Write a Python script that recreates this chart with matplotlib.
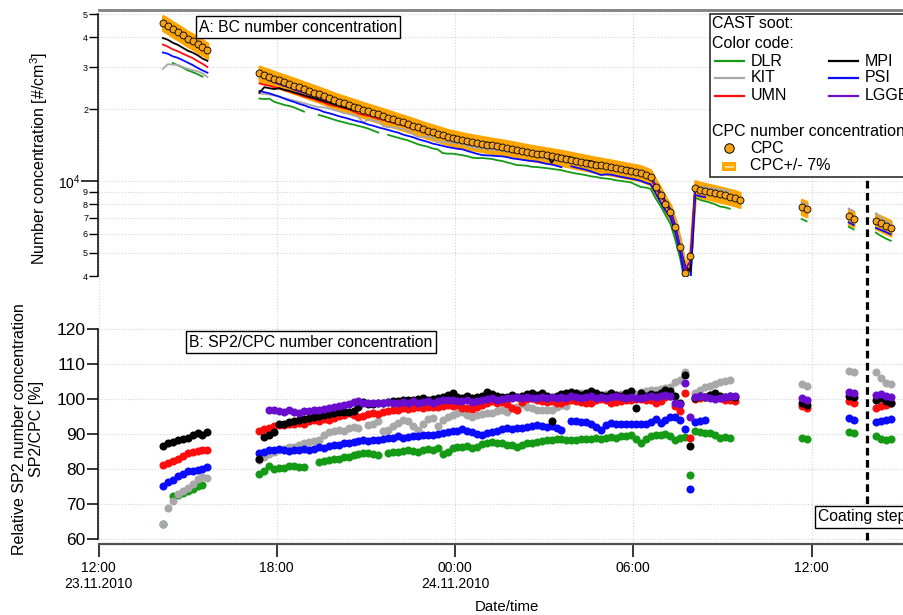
import numpy as np
import pandas as pd
import matplotlib
matplotlib.use('Agg')
from matplotlib import pyplot as plt
import matplotlib.dates as mdates
import matplotlib.ticker as mticker
import matplotlib.transforms as mtransforms
from matplotlib.lines import Line2D
from matplotlib.patches import Rectangle

plt.rcParams['font.family'] = ['Liberation Sans', 'DejaVu Sans']
plt.rcParams['mathtext.fontset'] = 'custom'
plt.rcParams['mathtext.rm'] = 'Liberation Sans'
plt.rcParams['mathtext.it'] = 'Liberation Sans:italic'

nan = np.nan

# Messabschnitte: Startzeit und Anzahl 10-min Werte
seg_start = ['2010-11-23 14:10', '2010-11-23 17:25', '2010-11-24 11:40',
             '2010-11-24 13:15', '2010-11-24 14:10']
seg_len = [10, 98, 2, 2, 4]

# CPC Anzahlkonzentration [#/cm3]
cpc = [45900, 44700, 43200, 42100, 40800, 39500, 38500, 37300, 36300, 35200,
       28200, 27700, 27300, 26800, 26360, 25930, 25520, 25090, 24670, 24250,
       23840, 23430, 23040, 22640, 22240, 21840, 21480, 21150, 20820, 20500,
       20170, 19860, 19560, 19270, 18990, 18700, 18420, 18130, 17850, 17580,
       17310, 17040, 16760, 16490, 16240, 16000, 15770, 15540, 15310, 15150,
       14990, 14830, 14680, 14550, 14430, 14310, 14190, 14080, 13970, 13860,
       13750, 13620, 13500, 13370, 13250, 13130, 13030, 12930, 12820, 12720,
       12620, 12520, 12400, 12280, 12160, 12050, 11930, 11810, 11710, 11610,
       11510, 11410, 11310, 11210, 11100, 11000, 10900, 10790, 10590, 10370,
       9450, 8750, 8000, 7400, 6400, 5300, 4100, 4850, 9350, 9200,
       9100, 9000, 8900, 8800, 8700, 8600, 8500, 8350,
       7800, 7650,
       7100, 6950,
       6800, 6650, 6500, 6350]

# SP2/CPC Verhaeltnis [%] pro Institut
ratio_dlr = [64.3, nan, 72.2, 72.5, 73.2, 73.6, 74.2, 75.1, 75.4, nan,
             78.5, 79.5, 81.0, 80.0, 80.2, 80.3, 80.8, 81.0, 80.7, 80.5,
             nan, nan, 82.0, 82.4, 82.6, 82.8, 83.0, 83.3, 83.5, 84.0,
             84.3, 84.6, 84.7, 84.3, 84.0, nan, 84.7, 84.8, 85.0, 85.2,
             85.4, 85.2, 85.0, 85.3, 85.7, 85.5, 86.0, 84.2, 85.0, 85.9,
             86.2, 86.4, 86.5, 86.0, 86.4, 87.2, 87.5, 87.8, 87.4, 87.5,
             87.0, 86.8, 86.3, 87.0, 87.4, 87.3, 87.8, 88.0, 88.3, 88.4,
             88.5, 88.6, 88.4, 88.3, 88.3, 88.5, 88.6, 88.5, 88.8, 88.6,
             89.0, 89.2, 89.0, 89.3, 89.5, 89.7, 88.5, 87.5, 88.6, 89.4,
             89.6, 89.8, 90.0, 89.5, 88.3, 88.8, 89.2, 78.3, 91.0, 90.6,
             90.4, 90.2, 89.8, 88.8, 89.2, 89.0, nan, nan,
             88.9, 88.6,
             90.5, 90.2,
             89.4, 88.6, 88.3, 88.5]
ratio_kit = [64.2, 69.0, 71.0, 72.8, 73.6, 74.6, 75.6, 77.2, 77.8, 77.4,
             82.5, 83.4, 84.3, 85.0, 85.4, 85.8, 86.2, 86.4, 86.9, 87.3,
             87.6, 88.0, 88.4, 89.8, 90.6, 90.8, 91.2, 91.0, 91.6, 92.0,
             91.8, 88.4, 92.6, 93.0, 93.8, 90.8, 91.2, 92.4, 93.2, 94.0,
             93.6, 92.2, 91.2, 93.0, 94.4, 94.5, 92.2, 94.0, 94.8, 95.4,
             95.9, 96.4, 95.5, 95.0, 95.4, 95.8, 95.9, 96.0, 96.5, 96.9,
             96.4, 97.3, 97.8, 98.6, 97.8, 97.4, 97.0, 96.9, 96.8, 96.9,
             97.6, 98.3, 98.0, 100.5, 101.6, 101.8, 101.4, 101.6, 101.2, 100.9,
             101.3, 101.6, 101.1, 101.4, 101.6, 101.1, 101.5, 102.1, 102.3, 102.6,
             102.6, 102.8, 103.2, 103.5, 104.8, 105.5, 107.8, nan, 101.8, 102.6,
             103.3, 103.8, 104.2, 104.8, 105.2, 105.4, nan, nan,
             104.4, 103.6,
             108.0, 107.6,
             107.8, 105.9, 104.5, 104.2]
ratio_umn = [81.2, 81.7, 82.4, 83.0, 83.7, 84.6, 85.0, 85.2, 85.3, 85.3,
             90.8, 91.3, 91.8, 92.2, 92.6, 92.5, 92.9, 93.0, 93.2, 93.0,
             93.6, 94.0, 93.8, 94.2, 94.0, 94.6, 95.2, 95.5, 95.9, 95.3,
             95.0, 95.2, 95.8, 96.0, 95.8, 96.4, 96.5, 96.8, 97.0, 97.3,
             97.2, 97.5, 97.6, 97.4, 97.8, 97.8, 97.6, 98.0, 98.3, 98.0,
             98.3, 97.5, 97.3, 97.2, 97.8, 98.3, 98.8, 99.5, 98.8, 99.2,
             98.6, 97.3, 97.0, 99.2, 100.0, 100.2, 99.6, 99.4, 99.2, 99.4,
             99.0, 98.8, 99.4, 99.7, 99.5, 99.2, 99.0, 98.9, 99.6, 100.0,
             99.8, 98.9, 99.2, 99.4, 99.6, 99.7, 99.9, 100.0, 99.8, 99.6,
             99.0, 99.3, 100.7, 101.0, 98.0, 96.5, 101.8, 89.0, 100.0, 100.3,
             100.7, 101.1, 101.4, 100.4, 99.8, 99.7, 99.5, nan,
             97.9, 97.3,
             99.3, 99.0,
             97.3, 97.9, 98.4, 98.8]
ratio_mpi = [86.5, 87.3, 87.8, 88.3, 88.6, 89.0, 89.6, 90.2, 89.7, 90.5,
             83.0, 89.2, 89.6, 90.5, 92.8, 93.0, 93.5, 93.6, 94.0, 94.2,
             94.5, 95.0, 95.2, 95.5, 95.8, 96.0, 96.2, 96.3, 96.4, 96.5,
             97.6, 99.2, 98.5, 98.6, 98.8, 99.0, 99.2, 99.5, 99.4, 99.7,
             99.6, 99.8, 100.0, 100.2, 99.8, 100.0, 100.4, 100.6, 101.2, 101.6,
             100.5, 100.3, 100.8, 100.2, 100.6, 101.0, 102.1, 101.4, 100.8, 100.5,
             100.6, 101.1, 100.7, 101.0, 101.3, 101.6, 101.2, 101.6, 100.8, 93.8,
             100.9, 101.5, 101.8, 102.1, 101.6, 101.2, 101.8, 102.4, 101.6, 101.2,
             101.0, 101.6, 101.2, 101.0, 101.8, 102.4, 97.3, 101.6, 101.0, 101.3,
             101.1, 101.8, 102.6, 102.4, 100.8, 98.8, 107.0, 86.6, 100.4, 101.0,
             100.6, 101.2, 101.6, 101.0, 100.6, 100.8, 100.5, nan,
             98.8, 98.3,
             101.0, 100.6,
             99.7, 100.2, 99.4, 99.0]
ratio_psi = [75.2, 76.3, 77.0, 77.9, 78.6, 79.3, 79.5, 79.8, 80.0, 80.7,
             84.5, 85.0, 85.3, 85.5, 85.6, 85.4, 85.2, 85.4, 85.3, 85.6,
             85.5, 85.8, 86.2, 86.0, 86.5, 86.9, 87.0, 87.3, 87.5, 87.6,
             88.0, 88.3, 88.1, 88.4, 88.3, 88.6, 88.8, 89.0, 89.3, 89.0,
             89.2, 89.5, 89.3, 89.6, 89.8, 89.6, 90.0, 90.3, 90.6, 90.8,
             91.0, 91.5, 91.0, 90.5, 90.0, 89.7, 90.2, 90.7, 91.0, 91.5,
             91.6, 91.3, 91.6, 91.8, 92.0, 92.3, 92.6, 92.3, 92.0, 92.2,
             91.8, 91.2, nan, 93.8, 93.6, 93.4, 93.3, 92.8, 92.0, 91.2,
             92.6, 93.2, 93.0, 92.8, 93.0, 93.0, 93.0, 92.8, 92.8, 93.5,
             94.2, 93.2, 94.0, 95.0, 94.8, 94.0, 91.5, 74.2, 93.5, 93.8,
             94.0, nan, nan, nan, nan, nan, nan, nan,
             nan, nan,
             94.5, 94.1,
             93.5, 93.8, 94.0, 94.2]
ratio_lggb = [nan, nan, nan, nan, nan, nan, nan, nan, nan, nan,
              nan, nan, 96.9, 96.8, 96.5, 96.4, 96.8, 96.2, 96.1, 96.5,
              96.6, 96.9, 97.0, 97.2, 97.5, 97.8, 98.0, 98.4, 98.6, 99.2,
              99.5, 99.0, 98.9, 98.8, 99.0, 98.8, 99.1, 98.9, 98.8, 99.2,
              99.0, 99.3, 99.0, 99.2, 99.4, 99.0, 99.3, 99.6, 99.7, 99.8,
              99.5, 99.4, 99.6, 99.2, 99.5, 99.8, 100.0, 100.2, 99.8, 100.1,
              100.4, 100.2, 100.6, 100.3, 100.5, 100.2, 100.4, 100.7, 100.2, 100.5,
              100.3, 100.6, 100.4, 100.8, 100.5, 100.2, 100.6, 100.9, 100.4, 100.6,
              100.2, 100.5, 100.8, 100.6, 100.3, 100.7, 100.4, 100.2, 100.6, 100.9,
              100.5, 100.8, 101.2, 101.0, 99.0, 98.6, 104.5, 95.0, 100.5, 100.8,
              100.6, 100.3, 100.0, 100.4, 100.6, 101.0, 100.8, nan,
              100.3, 99.8,
              102.0, 101.6,
              101.1, 101.4, 100.9, 100.7]

coating_step = '2010-11-24 13:52'
x_ticks = ['2010-11-23 12:00', '2010-11-23 18:00', '2010-11-24 00:00',
           '2010-11-24 06:00', '2010-11-24 12:00']
x_ticklabels = ['12:00\n23.11.2010', '18:00', '00:00\n24.11.2010', '06:00', '12:00']

# Farben wie im Original
instrumente = [('DLR', ratio_dlr, '#159a15'), ('KIT', ratio_kit, '#a8a8a8'),
               ('UMN', ratio_umn, '#ff0c0c'), ('PSI', ratio_psi, '#0a0aff'),
               ('MPI', ratio_mpi, '#000000'), ('LGGB', ratio_lggb, '#6a0dcf')]
orange = '#ffa500'
orange_kreis = '#f5a21b'

# Zeitachse zusammensetzen
times = pd.DatetimeIndex(np.concatenate(
    [pd.date_range(s, periods=n, freq='10min').values for s, n in zip(seg_start, seg_len)]))
t = mdates.date2num(times.to_pydatetime())
cpc = np.array(cpc, dtype=float)
grenzen = np.cumsum([0] + seg_len)

W, H = 904, 615
def fx(px):
    return px / W
def fy(py):
    return 1 - py / H

fig = plt.figure(figsize=(W / 100, H / 100), dpi=100)
x_links = 98.5
ax1 = fig.add_axes([fx(x_links), fy(276), 1 - fx(x_links), fy(10) - fy(276)])
ax2 = fig.add_axes([fx(x_links), fy(544), 1 - fx(x_links), fy(277) - fy(544)], sharex=ax1)

# Panel A: Anzahlkonzentration (log)
for a, b in zip(grenzen[:-1], grenzen[1:]):
    ts = t[a:b]
    c = cpc[a:b]
    ax1.fill_between(ts, c * 0.93, c * 1.07, color=orange, ec=orange, lw=2, zorder=2)
    for name, ratio, farbe in instrumente:
        r = np.array(ratio[a:b], dtype=float)
        ax1.plot(ts, c * r / 100, color=farbe, lw=1.3, zorder=3)
    ax1.plot(ts, c, 'o', ms=5.0, mfc=orange_kreis, mec='black', mew=0.6, zorder=4)

ax1.set_yscale('log')
ax1.set_ylim(4000, 52000)
ax1.yaxis.set_major_locator(mticker.FixedLocator([1e4]))
ax1.yaxis.set_major_formatter(mticker.FixedFormatter(['10$^{4}$']))
minor_vals = [4e3, 5e3, 6e3, 7e3, 8e3, 9e3, 2e4, 3e4, 4e4, 5e4]
ax1.yaxis.set_minor_locator(mticker.FixedLocator(minor_vals))
ax1.yaxis.set_minor_formatter(mticker.FixedFormatter(['4', '5', '6', '7', '8', '9', '2', '3', '4', '5']))
ax1.tick_params(axis='y', which='major', length=12, width=1.1, labelsize=10, pad=1)
ax1.tick_params(axis='y', which='minor', length=6.5, width=1.0, labelsize=6.5, pad=1)
ax1.tick_params(axis='x', which='both', bottom=False, labelbottom=False)
ax1.grid(True, which='both', axis='y', color='#d4d4d4', ls=':', lw=0.8)
ax1.grid(True, which='major', axis='x', color='#d4d4d4', ls=':', lw=0.8)
for s in ['right', 'bottom']:
    ax1.spines[s].set_visible(False)
ax1.spines['top'].set_color('#808080')
ax1.spines['top'].set_linewidth(2)
ax1.spines['left'].set_bounds(4000, 50000)
ax1.spines['left'].set_linewidth(1.1)

# Panel B: SP2/CPC
for name, ratio, farbe in instrumente:
    ax2.plot(t, ratio, 'o', ms=5.8, color=farbe, mew=0, zorder=3)

ax2.set_ylim(60 - 5 / 3.5, 120 + 52 / 3.5)
ax2.set_yticks(np.arange(60, 121, 10))
ax2.set_xticks(mdates.date2num(pd.to_datetime(x_ticks).to_pydatetime()))
ax2.set_xticklabels(x_ticklabels, linespacing=1.25)
ax2.xaxis.set_minor_locator(mticker.NullLocator())
x0 = mdates.date2num(pd.Timestamp('2010-11-23 12:00').to_pydatetime())
ax2.set_xlim(x0, x0 + (W - x_links) / 29.71 / 24)
ax2.tick_params(axis='y', length=8, width=1.1, labelsize=12.5, pad=1.5)
ax2.tick_params(axis='x', length=9, width=1.1, labelsize=10, pad=3)
ax2.grid(True, axis='both', color='#d4d4d4', ls=':', lw=0.8)
for s in ['right', 'top']:
    ax2.spines[s].set_visible(False)
ax2.spines['left'].set_bounds(60, 120)
ax2.spines['left'].set_linewidth(1.1)
ax2.spines['bottom'].set_color('#505050')
ax2.spines['bottom'].set_linewidth(1.6)

# Coating step Linie durch beide Panels
tc = mdates.date2num(pd.Timestamp(coating_step).to_pydatetime())
trans = mtransforms.blended_transform_factory(ax2.transData, ax2.transAxes)
ax2.plot([tc, tc], [4 / 267, 364 / 267], transform=trans, color='black', lw=2.3,
         ls=(0, (2.4, 1.4)), clip_on=False, zorder=5)

# Achsenbeschriftungen
fig.text(fx(39), fy(158), 'Number concentration [#/cm$^{3}$]', rotation=90,
         ha='center', va='center', fontsize=11.5)
fig.text(fx(28), fy(429), 'Relative SP2 number concentration\nSP2/CPC [%]', rotation=90,
         ha='center', va='center', fontsize=11.5, linespacing=1.2)
fig.text(fx(507), fy(607), 'Date/time', ha='center', va='center', fontsize=10.8)

box = dict(boxstyle='square,pad=0.2', fc='white', ec='black', lw=1)
fig.text(fx(199), fy(27), 'A: BC number concentration', ha='left', va='center',
         fontsize=11.3, bbox=box)
fig.text(fx(189), fy(342), 'B: SP2/CPC number concentration', ha='left', va='center',
         fontsize=11.3, bbox=box)
fig.text(fx(818), fy(517), 'Coating step', ha='left', va='center',
         fontsize=11.3, bbox=box)

# Legende von Hand
fig.patches.append(Rectangle((fx(709.5), fy(177)), 0.3, fy(13.5) - fy(177),
                             transform=fig.transFigure, fc='white', ec='#303030', lw=1.2))
fs_leg = 11.5
fig.text(fx(712), fy(24), 'CAST soot:', ha='left', va='center', fontsize=fs_leg)
fig.text(fx(712), fy(43), 'Color code:', ha='left', va='center', fontsize=fs_leg)
legend_pos = {'DLR': (715, 61), 'KIT': (715, 78), 'UMN': (715, 96),
              'MPI': (829, 61), 'PSI': (829, 78), 'LGGB': (829, 96)}
for name, ratio, farbe in instrumente:
    lx, ly = legend_pos[name]
    fig.add_artist(Line2D([fx(lx), fx(lx + 29)], [fy(ly), fy(ly)], color=farbe, lw=1.6))
    fig.text(fx(lx + 36), fy(ly), name, ha='left', va='center', fontsize=fs_leg)
fig.text(fx(712), fy(131), 'CPC number concentration', ha='left', va='center', fontsize=fs_leg)
fig.add_artist(Line2D([fx(729)], [fy(148)], marker='o', ms=6.8, mfc=orange_kreis,
                      mec='black', mew=0.7, ls='none'))
fig.text(fx(750), fy(148), 'CPC', ha='left', va='center', fontsize=fs_leg)
fig.patches.append(Rectangle((fx(722.5), fy(171.5)), fx(14), fy(162) - fy(171.5),
                             transform=fig.transFigure, fc=orange, ec='none'))
fig.add_artist(Line2D([fx(726), fx(733)], [fy(166.5), fy(166.5)], color='#ffd98a', lw=1.5))
fig.text(fx(750), fy(166), 'CPC+/- 7%', ha='left', va='center', fontsize=fs_leg)

fig.savefig('out.png', dpi=100)
plt.close()
